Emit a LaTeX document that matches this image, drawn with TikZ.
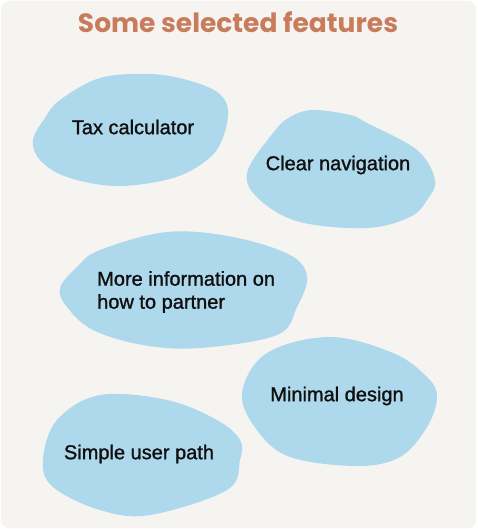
\documentclass[tikz,border=0pt]{standalone}
\usepackage{fontspec}
\setmainfont{Liberation Sans}
\newfontfamily\lblfont[FakeBold=1.2]{Liberation Sans}
\newfontfamily\titlefont{Poppins}
\definecolor{bgc}{RGB}{245,244,240}
\definecolor{blobc}{RGB}{174,216,236}
\definecolor{titlec}{RGB}{201,124,92}
\definecolor{txtc}{RGB}{15,15,15}
\begin{document}
\begin{tikzpicture}[x=1pt,y=-1pt,
  blob/.style={fill=blobc,draw=none},
  lbl/.style={font=\lblfont\fontsize{20}{23}\selectfont,text=txtc,inner sep=0pt,align=left},
  ttl/.style={font=\titlefont\bfseries\fontsize{26.5}{30}\selectfont,text=titlec,inner sep=0pt}]
\useasboundingbox (0,0) rectangle (477,529);
\fill[white] (0,0) rectangle (477,529);
\fill[bgc,rounded corners=8pt] (1,1) rectangle (476,528);
\node[ttl] (title) at (238,22) {Some selected features};
% blobs
\fill[blob] plot[smooth cycle,tension=0.6] coordinates {(33,140) (45,118) (60,100) (100,78) (150,74) (187,80) (217,92) (228,110) (222,140) (207,160) (173,178) (117,186) (67,177) (40,160)};
\fill[blob] plot[smooth cycle,tension=0.6] coordinates {(247,173) (273,133) (290,117) (313,110) (350,115) (367,123) (417,150) (435,180) (427,200) (410,217) (367,228) (300,222) (260,200)};
\fill[blob] plot[smooth cycle,tension=0.6] coordinates {(60,288) (77,267) (100,250) (167,232) (233,237) (290,255) (307,277) (297,307) (277,335) (200,348) (143,345) (93,330) (67,307)};
\fill[blob] plot[smooth cycle,tension=0.6] coordinates {(242,393) (267,353) (330,337) (393,353) (427,377) (437,397) (427,427) (400,457) (357,466) (290,457) (257,430)};
\fill[blob] plot[smooth cycle,tension=0.6] coordinates {(43,460) (57,420) (100,395) (167,400) (217,420) (240,440) (240,460) (227,490) (150,515) (100,510) (53,487)};
% labels
\node[lbl] (tax) at (133,127) {Tax calculator};
\node[lbl] (nav) at (338,165) {Clear navigation};
\node[lbl,anchor=west] (info) at (97,292) {More information on\\how to partner};
\node[lbl] (min) at (337,396) {Minimal design};
\node[lbl] (path) at (139,454) {Simple user path};
\end{tikzpicture}
\end{document}
